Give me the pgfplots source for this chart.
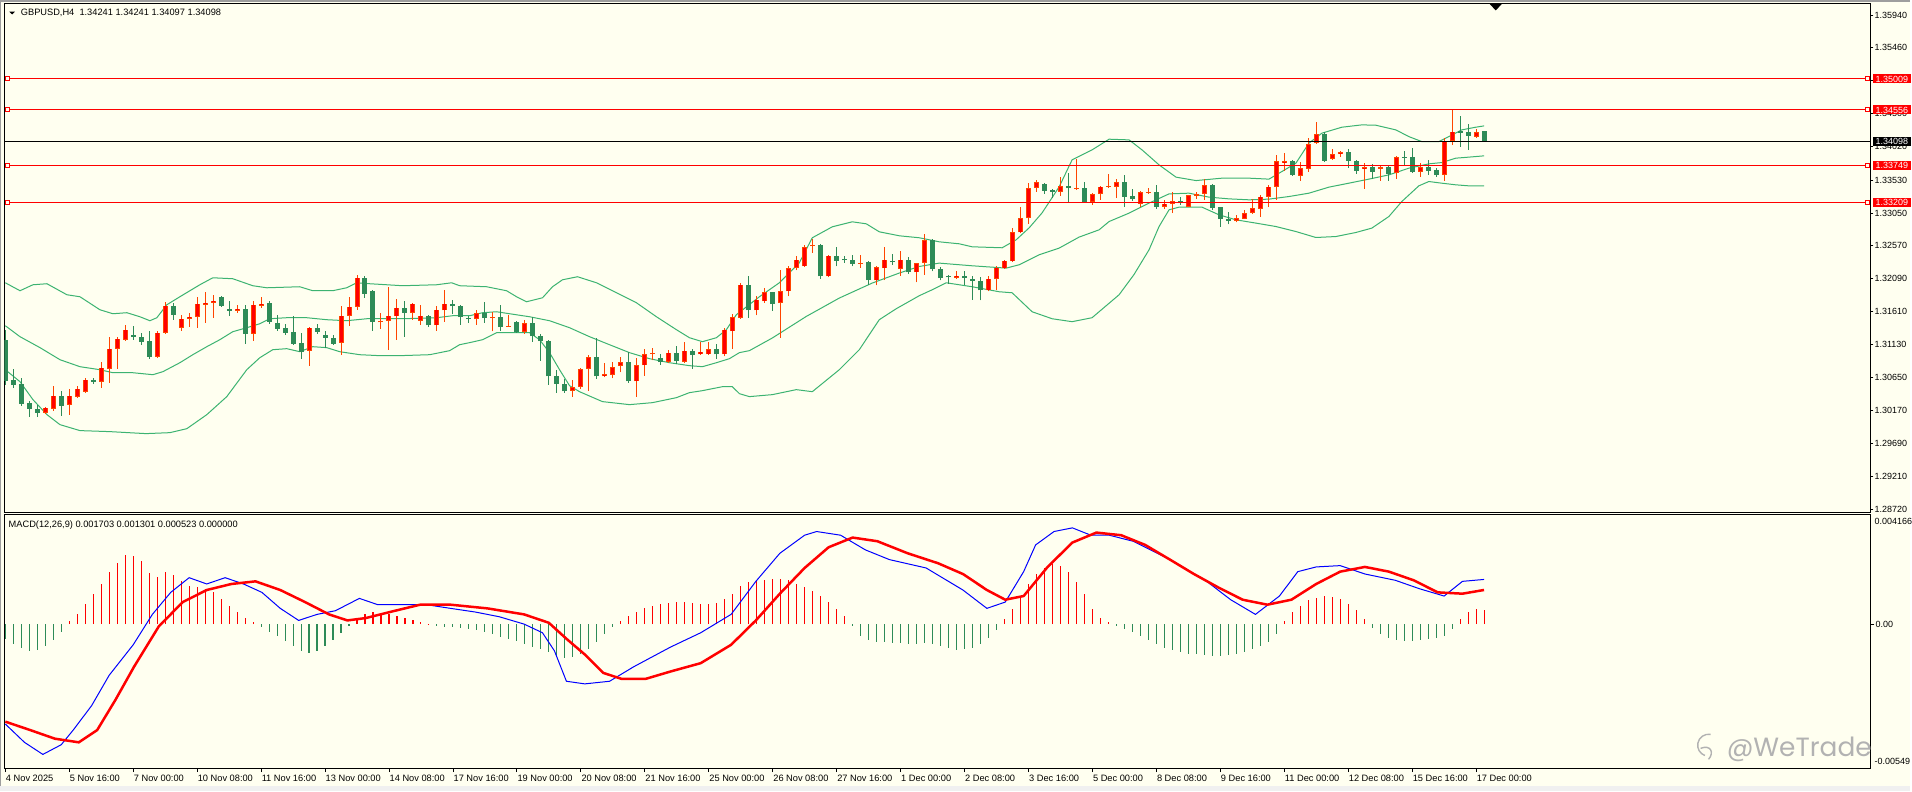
\documentclass[border=0pt]{standalone}
\usepackage{fontspec}
\setmainfont{Liberation Sans}
\newfontfamily\wmfont{Poppins}
\usepackage{pgfplots}
\usepackage{pgfplotstable}
\pgfplotsset{compat=1.18}
\definecolor{bgc}{RGB}{255,255,240}
\definecolor{bullfill}{RGB}{255,0,0}
\definecolor{bullline}{RGB}{255,69,0}
\definecolor{bear}{RGB}{46,139,87}
\definecolor{bbc}{RGB}{60,179,113}
\definecolor{histg}{RGB}{46,139,87}

\pgfplotstableread{
k O H L C
0 1.31200 1.31346 1.30543 1.30601
1 1.30616 1.30777 1.30500 1.30543
2 1.30558 1.30646 1.30237 1.30266
3 1.30281 1.30310 1.30077 1.30193
4 1.30193 1.30252 1.30077 1.30135
5 1.30135 1.30223 1.30120 1.30208
6 1.30193 1.30529 1.30164 1.30383
7 1.30383 1.30456 1.30091 1.30237
8 1.30252 1.30485 1.30106 1.30383
9 1.30369 1.30529 1.30354 1.30485
10 1.30441 1.30646 1.30427 1.30616
11 1.30616 1.30646 1.30558 1.30587
12 1.30587 1.30879 1.30500 1.30791
13 1.30777 1.31244 1.30573 1.31069
14 1.31069 1.31244 1.30777 1.31215
15 1.31200 1.31419 1.31186 1.31346
16 1.31273 1.31404 1.31200 1.31244
17 1.31244 1.31302 1.31127 1.31171
18 1.31186 1.31332 1.30923 1.30952
19 1.30952 1.31332 1.30938 1.31302
20 1.31302 1.31754 1.31288 1.31696
21 1.31696 1.31739 1.31492 1.31565
22 1.31375 1.31565 1.31332 1.31506
23 1.31506 1.31594 1.31390 1.31535
24 1.31535 1.31827 1.31375 1.31725
25 1.31710 1.31900 1.31448 1.31739
26 1.31739 1.31856 1.31521 1.31769
27 1.31827 1.31842 1.31681 1.31696
28 1.31652 1.31769 1.31550 1.31623
29 1.31623 1.31710 1.31594 1.31652
30 1.31652 1.31710 1.31142 1.31288
31 1.31288 1.31769 1.31186 1.31710
32 1.31696 1.31827 1.31667 1.31725
33 1.31739 1.31769 1.31433 1.31463
34 1.31448 1.31565 1.31332 1.31361
35 1.31375 1.31433 1.31273 1.31302
36 1.31317 1.31550 1.31127 1.31142
37 1.31157 1.31302 1.30923 1.31025
38 1.31040 1.31390 1.30821 1.31375
39 1.31375 1.31433 1.31288 1.31317
40 1.31273 1.31332 1.31084 1.31229
41 1.31229 1.31273 1.31127 1.31142
42 1.31157 1.31696 1.30981 1.31550
43 1.31550 1.31827 1.31404 1.31681
44 1.31681 1.32148 1.31637 1.32104
45 1.32104 1.32133 1.31812 1.31871
46 1.31915 1.31929 1.31332 1.31463
47 1.31452 1.31594 1.31361 1.31467
48 1.31477 1.31973 1.31054 1.31550
49 1.31540 1.31798 1.31200 1.31667
50 1.31667 1.31769 1.31244 1.31594
51 1.31594 1.31739 1.31492 1.31725
52 1.31477 1.31710 1.31419 1.31550
53 1.31550 1.31565 1.31390 1.31409
54 1.31409 1.31696 1.31332 1.31637
55 1.31627 1.31929 1.31463 1.31725
56 1.31725 1.31783 1.31579 1.31686
57 1.31696 1.31710 1.31419 1.31531
58 1.31521 1.31550 1.31448 1.31502
59 1.31502 1.31637 1.31419 1.31589
60 1.31589 1.31754 1.31448 1.31516
61 1.31516 1.31598 1.31321 1.31531
62 1.31531 1.31710 1.31332 1.31385
63 1.31394 1.31565 1.31390 1.31404
64 1.31458 1.31477 1.31302 1.31306
65 1.31312 1.31492 1.31288 1.31443
66 1.31443 1.31535 1.31171 1.31248
67 1.31248 1.31288 1.30894 1.31181
68 1.31181 1.31200 1.30543 1.30665
69 1.30665 1.30762 1.30427 1.30558
70 1.30554 1.30631 1.30427 1.30446
71 1.30456 1.30616 1.30369 1.30510
72 1.30510 1.30791 1.30485 1.30772
73 1.30772 1.30981 1.30456 1.30947
74 1.30947 1.31229 1.30631 1.30665
75 1.30665 1.30864 1.30650 1.30700
76 1.30685 1.30869 1.30635 1.30802
77 1.30816 1.30952 1.30723 1.30874
78 1.30874 1.31025 1.30573 1.30592
79 1.30592 1.30938 1.30369 1.30831
80 1.30825 1.31069 1.30675 1.30991
81 1.30991 1.31084 1.30898 1.31011
82 1.30933 1.30996 1.30835 1.30874
83 1.30874 1.31054 1.30864 1.31011
84 1.31011 1.31103 1.30850 1.30883
85 1.30874 1.31171 1.30864 1.31040
86 1.31040 1.31069 1.30777 1.30981
87 1.30986 1.31161 1.30981 1.31025
88 1.30986 1.31161 1.30981 1.31064
89 1.31064 1.31142 1.30923 1.30986
90 1.30986 1.31375 1.30956 1.31346
91 1.31321 1.31579 1.31069 1.31531
92 1.31516 1.32031 1.31506 1.32002
93 1.32002 1.32133 1.31521 1.31627
94 1.31627 1.31831 1.31554 1.31783
95 1.31759 1.31958 1.31739 1.31895
96 1.31895 1.31900 1.31623 1.31720
97 1.31735 1.32221 1.31229 1.31910
98 1.31904 1.32269 1.31831 1.32246
99 1.32246 1.32415 1.32211 1.32367
100 1.32269 1.32585 1.32265 1.32552
101 1.32561 1.32673 1.32469 1.32581
102 1.32585 1.32600 1.32090 1.32123
103 1.32123 1.32440 1.32109 1.32425
104 1.32425 1.32546 1.32269 1.32352
105 1.32377 1.32415 1.32323 1.32357
106 1.32367 1.32440 1.32269 1.32308
107 1.32308 1.32440 1.32250 1.32318
108 1.32337 1.32352 1.32002 1.32065
109 1.32065 1.32269 1.31992 1.32254
110 1.32240 1.32546 1.32070 1.32367
111 1.32352 1.32454 1.32294 1.32327
112 1.32231 1.32488 1.32133 1.32367
113 1.32367 1.32400 1.32163 1.32182
114 1.32182 1.32327 1.32036 1.32318
115 1.32318 1.32746 1.32148 1.32658
116 1.32658 1.32673 1.32196 1.32231
117 1.32235 1.32260 1.32065 1.32100
118 1.32123 1.32148 1.32017 1.32109
119 1.32100 1.32196 1.32090 1.32133
120 1.32133 1.32196 1.32002 1.32100
121 1.32090 1.32123 1.31783 1.32061
122 1.32061 1.32114 1.31773 1.31919
123 1.31919 1.32133 1.31904 1.32090
124 1.32085 1.32269 1.31929 1.32254
125 1.32240 1.32367 1.32235 1.32352
126 1.32342 1.32833 1.32337 1.32771
127 1.32765 1.33140 1.32760 1.32975
128 1.32975 1.33490 1.32892 1.33413
129 1.33413 1.33534 1.33363 1.33500
130 1.33471 1.33485 1.33329 1.33378
131 1.33388 1.33395 1.33267 1.33363
132 1.33363 1.33573 1.33304 1.33446
133 1.33446 1.33631 1.33208 1.33413
134 1.33398 1.33835 1.33388 1.33413
135 1.33413 1.33500 1.33208 1.33217
136 1.33208 1.33340 1.33169 1.33325
137 1.33325 1.33451 1.33242 1.33436
138 1.33436 1.33621 1.33413 1.33451
139 1.33436 1.33544 1.33267 1.33500
140 1.33509 1.33602 1.33144 1.33290
141 1.33300 1.33398 1.33232 1.33261
142 1.33179 1.33377 1.33144 1.33354
143 1.33344 1.33413 1.33329 1.33363
144 1.33359 1.33456 1.33111 1.33144
145 1.33144 1.33242 1.33115 1.33184
146 1.33179 1.33363 1.33048 1.33223
147 1.33223 1.33290 1.33169 1.33194
148 1.33144 1.33315 1.33135 1.33310
149 1.33305 1.33359 1.33252 1.33325
150 1.33329 1.33544 1.33242 1.33456
151 1.33456 1.33475 1.33096 1.33121
152 1.33135 1.33144 1.32852 1.32960
153 1.32969 1.33057 1.32882 1.32931
154 1.32931 1.33019 1.32911 1.32979
155 1.32969 1.33096 1.32960 1.33048
156 1.33048 1.33252 1.33038 1.33125
157 1.33115 1.33310 1.32998 1.33290
158 1.33290 1.33456 1.33135 1.33436
159 1.33436 1.33898 1.33242 1.33806
160 1.33786 1.33923 1.33669 1.33811
161 1.33811 1.33825 1.33596 1.33602
162 1.33596 1.33800 1.33523 1.33704
163 1.33698 1.34142 1.33655 1.34054
164 1.34069 1.34380 1.34059 1.34205
165 1.34205 1.34234 1.33800 1.33811
166 1.33836 1.33981 1.33825 1.33913
167 1.33908 1.33961 1.33865 1.33942
168 1.33942 1.33986 1.33713 1.33811
169 1.33811 1.33825 1.33621 1.33669
170 1.33690 1.33777 1.33407 1.33719
171 1.33719 1.33767 1.33544 1.33655
172 1.33698 1.33752 1.33523 1.33719
173 1.33719 1.33752 1.33523 1.33625
174 1.33631 1.33884 1.33553 1.33865
175 1.33873 1.33961 1.33738 1.33859
176 1.33865 1.33996 1.33640 1.33655
177 1.33655 1.33777 1.33582 1.33719
178 1.33719 1.33825 1.33606 1.33669
179 1.33679 1.33704 1.33582 1.33602
180 1.33602 1.34142 1.33523 1.34098
181 1.34098 1.34555 1.34044 1.34238
182 1.34253 1.34467 1.34019 1.34223
183 1.34234 1.34350 1.33971 1.34175
184 1.34165 1.34273 1.34150 1.34234
185 1.34241 1.34241 1.34097 1.34098
}\candles

\pgfplotstableread{
k v
0 -0.00057
1 -0.00076
2 -0.00091
3 -0.00103
4 -0.00099
5 -0.00084
6 -0.00061
7 -0.00030
8 0.00011
9 0.00038
10 0.00076
11 0.00114
12 0.00152
13 0.00198
14 0.00232
15 0.00263
16 0.00259
17 0.00240
18 0.00194
19 0.00179
20 0.00198
21 0.00187
22 0.00164
23 0.00145
24 0.00141
25 0.00133
26 0.00122
27 0.00095
28 0.00069
29 0.00046
30 0.00023
31 0.00008
32 -0.00011
33 -0.00030
34 -0.00046
35 -0.00065
36 -0.00084
37 -0.00103
38 -0.00111
39 -0.00103
40 -0.00084
41 -0.00061
42 -0.00034
43 -0.00008
44 0.00019
45 0.00038
46 0.00046
47 0.00042
48 0.00038
49 0.00030
50 0.00023
51 0.00015
52 0.00008
53 0.00002
54 -0.00008
55 -0.00011
56 -0.00011
57 -0.00015
58 -0.00019
59 -0.00023
60 -0.00030
61 -0.00038
62 -0.00050
63 -0.00057
64 -0.00065
65 -0.00076
66 -0.00088
67 -0.00095
68 -0.00107
69 -0.00122
70 -0.00130
71 -0.00126
72 -0.00114
73 -0.00095
74 -0.00069
75 -0.00038
76 -0.00011
77 0.00011
78 0.00030
79 0.00046
80 0.00061
81 0.00069
82 0.00076
83 0.00080
84 0.00084
85 0.00084
86 0.00080
87 0.00076
88 0.00076
89 0.00080
90 0.00095
91 0.00114
92 0.00145
93 0.00160
94 0.00164
95 0.00168
96 0.00171
97 0.00171
98 0.00168
99 0.00152
100 0.00141
101 0.00126
102 0.00107
103 0.00084
104 0.00057
105 0.00030
106 -0.00008
107 -0.00046
108 -0.00061
109 -0.00069
110 -0.00069
111 -0.00072
112 -0.00072
113 -0.00076
114 -0.00076
115 -0.00072
116 -0.00076
117 -0.00084
118 -0.00091
119 -0.00099
120 -0.00095
121 -0.00091
122 -0.00076
123 -0.00053
124 -0.00023
125 0.00019
126 0.00057
127 0.00107
128 0.00152
129 0.00191
130 0.00213
131 0.00229
132 0.00221
133 0.00198
134 0.00160
135 0.00114
136 0.00057
137 0.00023
138 0.00008
139 -0.00008
140 -0.00019
141 -0.00030
142 -0.00046
143 -0.00061
144 -0.00076
145 -0.00091
146 -0.00099
147 -0.00107
148 -0.00114
149 -0.00114
150 -0.00118
151 -0.00122
152 -0.00122
153 -0.00118
154 -0.00114
155 -0.00107
156 -0.00095
157 -0.00084
158 -0.00069
159 -0.00038
160 0.00011
161 0.00046
162 0.00069
163 0.00091
164 0.00099
165 0.00107
166 0.00103
167 0.00095
168 0.00076
169 0.00053
170 0.00019
171 -0.00015
172 -0.00038
173 -0.00053
174 -0.00061
175 -0.00065
176 -0.00065
177 -0.00061
178 -0.00057
179 -0.00053
180 -0.00046
181 -0.00019
182 0.00019
183 0.00046
184 0.00057
185 0.000523
}\hist

\begin{document}
\begin{tikzpicture}[x=1bp,y=1bp]
\fill[bgc] (0,0) rectangle (1912,792);
\fill[black!38] (0,789.5) rectangle (1912,792);
\fill[black!38] (0,0) rectangle (1.5,792);
\fill[black!6] (0,0) rectangle (1912,5.5);

\begin{axis}[
  at={(4.5bp,279.3bp)}, anchor=south west, scale only axis,
  width=1867.5bp, height=508.7bp,
  xmin=-0.1, xmax=233.34, ymin=1.28681, ymax=1.36101,
  axis line style={black, line width=1bp},
  xtick=\empty,
  ytick={1.35940,1.35460,1.34980,1.34500,1.34020,1.33530,1.33050,1.32570,1.32090,1.31610,1.31130,1.30650,1.30170,1.29690,1.29210,1.28720},
  yticklabels={1.35940,1.35460,1.34980,1.34500,1.34020,1.33530,1.33050,1.32570,1.32090,1.31610,1.31130,1.30650,1.30170,1.29690,1.29210,1.28720},
  ytick pos=right, yticklabel pos=right, tick align=outside,
  major tick length=3bp, tick style={black, line width=0.8bp},
  yticklabel style={anchor=west, inner sep=0pt, xshift=1bp, font=\fontsize{9}{10}\selectfont},
  scaled y ticks=false, clip mode=individual,
]
% Bollinger bands
\addplot[bbc, line width=1bp] coordinates {(0,1.32031) (1.84,1.31915) (3.46,1.32002) (5.21,1.32017) (7.71,1.31856) (9.34,1.31827) (11.84,1.31637) (13.46,1.31579) (15.21,1.31594) (16.84,1.31535) (18.09,1.31477) (18.96,1.31521) (20.21,1.31710) (21.84,1.31827) (24.34,1.32002) (25.96,1.32104) (28.46,1.32090) (30.96,1.31988) (32.71,1.31958) (36.84,1.31973) (38.46,1.31915) (40.96,1.31915) (42.71,1.31958) (43.96,1.32031) (45.59,1.32017) (49.71,1.31988) (53.96,1.32002) (55.84,1.32031) (56.84,1.31988) (60.21,1.31973) (62.71,1.31915) (63.96,1.31827) (65.21,1.31754) (67.21,1.31812) (68.46,1.31973) (69.71,1.32075) (71.59,1.32119) (73.96,1.32031) (76.46,1.31885) (78.96,1.31739) (81.46,1.31535) (83.96,1.31346) (85.59,1.31229) (87.21,1.31171) (88.96,1.31229) (90.21,1.31346) (91.46,1.31565) (94.34,1.31827) (96.84,1.32031) (99.34,1.32323) (100.96,1.32688) (103.46,1.32848) (105.96,1.32921) (107.71,1.32892) (109.34,1.32775) (111.84,1.32717) (114.34,1.32688) (116.84,1.32629) (119.34,1.32600) (120.96,1.32556) (124.71,1.32542) (126.46,1.32658) (128.09,1.32833) (129.71,1.33052) (131.84,1.33431) (133.46,1.33825) (135.21,1.33927) (135.96,1.33971) (138.09,1.34127) (140.59,1.34117) (142.21,1.33971) (144.34,1.33752) (146.46,1.33573) (148.96,1.33523) (152.21,1.33558) (155.59,1.33558) (158.09,1.33544) (159.71,1.33655) (161.46,1.33777) (163.09,1.34069) (164.71,1.34215) (167.21,1.34302) (169.71,1.34336) (171.46,1.34331) (173.96,1.34263) (175.59,1.34165) (177.21,1.34092) (179.34,1.34092) (180.59,1.34165) (182.21,1.34263) (183.96,1.34302) (185,1.34321)};
\addplot[bbc, line width=1bp] coordinates {(0,1.31404) (1.84,1.31244) (4.34,1.31084) (6.84,1.30908) (9.34,1.30806) (11.84,1.30762) (13.46,1.30718) (15.96,1.30718) (18.46,1.30689) (19.71,1.30733) (21.84,1.30864) (23.46,1.30981) (25.21,1.31098) (26.84,1.31200) (28.46,1.31317) (30.21,1.31375) (31.84,1.31433) (33.09,1.31506) (35.21,1.31521) (37.71,1.31521) (40.21,1.31492) (42.71,1.31477) (45.21,1.31506) (49.71,1.31506) (53.96,1.31521) (55.96,1.31550) (58.09,1.31550) (59.71,1.31594) (61.46,1.31608) (63.09,1.31579) (65.59,1.31535) (68.09,1.31477) (70.59,1.31375) (73.09,1.31244) (75.59,1.31127) (78.09,1.31011) (80.59,1.30923) (83.09,1.30864) (85.59,1.30821) (87.21,1.30806) (88.96,1.30864) (90.59,1.30923) (91.84,1.31011) (93.09,1.31040) (95.96,1.31225) (100.21,1.31540) (104.34,1.31808) (108.46,1.32027) (111.84,1.32173) (114.34,1.32269) (116.84,1.32318) (120.96,1.32279) (125.21,1.32245) (126.84,1.32294) (129.34,1.32440) (131.84,1.32537) (134.34,1.32698) (136.84,1.32804) (138.09,1.32925) (140.59,1.33048) (143.09,1.33194) (145.59,1.33329) (148.09,1.33339) (150.59,1.33281) (153.09,1.33256) (155.59,1.33242) (158.09,1.33252) (160.59,1.33290) (163.09,1.33339) (165.59,1.33427) (168.09,1.33485) (170.59,1.33544) (173.09,1.33606) (175.59,1.33704) (178.09,1.33767) (179.71,1.33786) (181.46,1.33850) (183.09,1.33865) (185,1.33884)};
\addplot[bbc, line width=1bp] coordinates {(0,1.30762) (1.84,1.30587) (3.46,1.30325) (5.21,1.30106) (6.84,1.29960) (9.34,1.29873) (13.09,1.29858) (17.59,1.29829) (20.59,1.29843) (22.71,1.29901) (25.21,1.30106) (27.71,1.30369) (30.21,1.30762) (31.84,1.30937) (33.46,1.31054) (35.21,1.31069) (36.84,1.31025) (38.46,1.31098) (40.21,1.31084) (41.84,1.31025) (44.34,1.30981) (46.84,1.30967) (49.34,1.30967) (53.09,1.30981) (55.59,1.31040) (56.84,1.31127) (58.09,1.31157) (59.71,1.31200) (61.46,1.31302) (63.96,1.31302) (65.59,1.31302) (66.84,1.31200) (68.09,1.31011) (69.34,1.30762) (70.59,1.30529) (71.84,1.30441) (74.71,1.30296) (78.09,1.30252) (80.96,1.30281) (83.96,1.30354) (85.59,1.30427) (87.21,1.30456) (89.71,1.30514) (90.96,1.30514) (91.84,1.30412) (93.09,1.30369) (95.96,1.30398) (98.96,1.30471) (100.96,1.30441) (104.34,1.30762) (106.84,1.31054) (109.34,1.31492) (111.46,1.31652) (114.34,1.31842) (115.96,1.31929) (117.71,1.32031) (120.96,1.31973) (124.34,1.31900) (125.96,1.31885) (128.46,1.31608) (130.96,1.31506) (133.46,1.31463) (135.96,1.31521) (139.34,1.31856) (141.2,1.32150) (143.09,1.32513) (144.34,1.32852) (145.59,1.33096) (146.84,1.33135) (149.71,1.33135) (151.84,1.33023) (153.96,1.32950) (156.46,1.32902) (158.96,1.32852) (161.46,1.32779) (163.96,1.32692) (166.46,1.32706) (168.96,1.32765) (170.96,1.32829) (173.09,1.32998) (174.71,1.33217) (176.84,1.33446) (178.09,1.33509) (179.71,1.33485) (181.46,1.33461) (183.09,1.33446) (185,1.33446)};
% bear candles (close below open)
\addplot[draw=none, mark=none, restrict expr to domain={\thisrow{O}-\thisrow{C}}{0:1},
  error bars/.cd, y dir=plus, y explicit, error mark=none,
  error bar style={line width=1bp, draw=bear}]
  table[x=k, y=L, y error expr=\thisrow{H}-\thisrow{L}] {\candles};
\addplot[draw=none, mark=none, restrict expr to domain={\thisrow{O}-\thisrow{C}}{0:1},
  error bars/.cd, y dir=plus, y explicit, error mark=none,
  error bar style={line width=5bp, draw=bear}]
  table[x=k, y=C, y error expr=\thisrow{O}-\thisrow{C}] {\candles};
% bull candles
\addplot[draw=none, mark=none, restrict expr to domain={\thisrow{C}-\thisrow{O}}{0.000001:1},
  error bars/.cd, y dir=plus, y explicit, error mark=none,
  error bar style={line width=1bp, draw=bullline}]
  table[x=k, y=L, y error expr=\thisrow{H}-\thisrow{L}] {\candles};
\addplot[draw=none, mark=none, restrict expr to domain={\thisrow{C}-\thisrow{O}}{0.000001:1},
  error bars/.cd, y dir=plus, y explicit, error mark=none,
  error bar style={line width=5bp, draw=bullline}]
  table[x=k, y=O, y error expr=\thisrow{C}-\thisrow{O}] {\candles};
\addplot[draw=none, mark=none, restrict expr to domain={\thisrow{C}-\thisrow{O}}{0.00025:1},
  error bars/.cd, y dir=plus, y explicit, error mark=none,
  error bar style={line width=3bp, draw=bullfill}]
  table[x=k, y expr=\thisrow{O}+0.0001, y error expr=\thisrow{C}-\thisrow{O}-0.0002] {\candles};
% horizontal levels
\addplot[black, line width=1bp] coordinates {(-0.1,1.34098) (233.34,1.34098)};
\addplot[red, line width=1bp, mark=square*, mark size=2bp, mark options={fill=bgc, draw=red, line width=0.8bp}] coordinates {(0.25,1.35009) (232.9,1.35009)};
\addplot[red, line width=1bp, mark=square*, mark size=2bp, mark options={fill=bgc, draw=red, line width=0.8bp}] coordinates {(0.25,1.34556) (232.9,1.34556)};
\addplot[red, line width=1bp, mark=square*, mark size=2bp, mark options={fill=bgc, draw=red, line width=0.8bp}] coordinates {(0.25,1.33749) (232.9,1.33749)};
\addplot[red, line width=1bp, mark=square*, mark size=2bp, mark options={fill=bgc, draw=red, line width=0.8bp}] coordinates {(0.25,1.33209) (232.9,1.33209)};
\node[fill=red, text=white, anchor=west, inner xsep=3bp, inner ysep=1.2bp, text height=6.5bp, text depth=0bp, font=\fontsize{9}{10}\selectfont, xshift=2bp] at (axis cs:233.34,1.35009) {1.35009};
\node[fill=red, text=white, anchor=west, inner xsep=3bp, inner ysep=1.2bp, text height=6.5bp, text depth=0bp, font=\fontsize{9}{10}\selectfont, xshift=2bp] at (axis cs:233.34,1.34556) {1.34556};
\node[fill=black, text=white, anchor=west, inner xsep=3bp, inner ysep=1.2bp, text height=6.5bp, text depth=0bp, font=\fontsize{9}{10}\selectfont, xshift=2bp] at (axis cs:233.34,1.34098) {1.34098};
\node[fill=red, text=white, anchor=west, inner xsep=3bp, inner ysep=1.2bp, text height=6.5bp, text depth=0bp, font=\fontsize{9}{10}\selectfont, xshift=2bp] at (axis cs:233.34,1.33749) {1.33749};
\node[fill=red, text=white, anchor=west, inner xsep=3bp, inner ysep=1.2bp, text height=6.5bp, text depth=0bp, font=\fontsize{9}{10}\selectfont, xshift=2bp] at (axis cs:233.34,1.33209) {1.33209};
\end{axis}

\begin{axis}[
  at={(4.5bp,23.3bp)}, anchor=south west, scale only axis,
  width=1867.5bp, height=253.4bp,
  xmin=-0.1, xmax=233.34, ymin=-0.00549, ymax=0.004166,
  axis line style={black, line width=1bp},
  xtick={0,8,...,184},
  xticklabels={4 Nov 2025,5 Nov 16:00,7 Nov 00:00,10 Nov 08:00,11 Nov 16:00,13 Nov 00:00,14 Nov 08:00,17 Nov 16:00,19 Nov 00:00,20 Nov 08:00,21 Nov 16:00,25 Nov 00:00,26 Nov 08:00,27 Nov 16:00,1 Dec 00:00,2 Dec 08:00,3 Dec 16:00,5 Dec 00:00,8 Dec 08:00,9 Dec 16:00,11 Dec 00:00,12 Dec 08:00,15 Dec 16:00,17 Dec 00:00},
  xtick pos=bottom, xticklabel pos=bottom,
  ytick={0}, yticklabels={0.00}, ytick pos=right, yticklabel pos=right,
  tick align=outside, major tick length=4bp, tick style={black, line width=0.8bp},
  xticklabel style={anchor=north west, inner sep=0pt, xshift=0.5bp, yshift=-3bp, font=\fontsize{9.3}{10}\selectfont},
  yticklabel style={anchor=west, inner sep=0pt, xshift=1bp, font=\fontsize{9}{10}\selectfont},
  scaled y ticks=false, clip mode=individual,
]
\addplot[ycomb, bullfill, line width=1.1bp, restrict y to domain=0:1] table[x=k, y=v] {\hist};
\addplot[ycomb, histg, line width=1.1bp, restrict y to domain=-1:0] table[x=k, y=v] {\hist};
\addplot[blue, line width=1bp] coordinates {(0,-0.00381) (2.4,-0.00451) (4.7,-0.00497) (7,-0.00460) (8.5,-0.00404) (10.8,-0.00311) (13,-0.00195) (16,-0.00079) (18.4,0.00037) (20.7,0.00121) (23,0.00177) (25.2,0.00153) (27.5,0.00177) (29.8,0.00153) (32.1,0.00121) (34.4,0.00060) (36.7,0.00014) (39,0.00037) (41.3,0.00051) (44.3,0.00098) (46.6,0.00074) (49.6,0.00074) (52.7,0.00074) (55.7,0.00060) (58.8,0.00046) (61.8,0.00028) (64.9,0.00000) (67.2,-0.00033) (68.7,-0.00102) (70.2,-0.00218) (72.5,-0.00228) (75.6,-0.00218) (78.6,-0.00163) (83.2,-0.00088) (87,-0.00033) (90.8,0.00037) (93.9,0.00163) (96.9,0.00270) (100,0.00339) (101.5,0.00353) (104.5,0.00339) (107.6,0.00283) (110.6,0.00246) (115.2,0.00214) (119.8,0.00130) (122.8,0.00060) (125.1,0.00084) (127.4,0.00200) (128.9,0.00302) (131.2,0.00353) (133.5,0.00367) (135.8,0.00339) (138.1,0.00339) (141.1,0.00316) (145.7,0.00246) (150.3,0.00163) (153.3,0.00093) (156.4,0.00037) (159.4,0.00107) (161.7,0.00200) (164,0.00218) (167,0.00223) (170.1,0.00191) (173.9,0.00167) (176.9,0.00135) (180,0.00107) (182.3,0.00163) (185,0.001703)};
\addplot[red, line width=2.5bp] coordinates {(0,-0.00372) (3.1,-0.00404) (6.2,-0.00437) (9.2,-0.00451) (11.5,-0.00404) (13.8,-0.00288) (16.1,-0.00163) (19.2,-0.00009) (22.2,0.00084) (25.2,0.00130) (28.3,0.00153) (31.3,0.00163) (34.4,0.00130) (37.5,0.00084) (40.5,0.00037) (42.8,0.00014) (45.1,0.00023) (48.1,0.00046) (51.9,0.00074) (55.7,0.00074) (60.3,0.00060) (64.9,0.00037) (68,0.00005) (70.2,-0.00056) (72.5,-0.00116) (74.8,-0.00186) (77.1,-0.00209) (80.1,-0.00209) (83.2,-0.00181) (87,-0.00149) (90.8,-0.00079) (93.9,0.00014) (96.9,0.00116) (100,0.00214) (103,0.00293) (106,0.00330) (109.1,0.00316) (112.9,0.00270) (116.7,0.00232) (119.8,0.00191) (122.8,0.00130) (125.1,0.00093) (127.4,0.00107) (130.4,0.00218) (133.5,0.00311) (136.5,0.00349) (139.6,0.00339) (142.6,0.00302) (145.7,0.00246) (148.7,0.00191) (151.8,0.00139) (154.8,0.00093) (157.9,0.00074) (160.9,0.00093) (164,0.00153) (167,0.00200) (170.1,0.00218) (173.1,0.00200) (176.2,0.00167) (179.2,0.00121) (182.3,0.00116) (185,0.001301)};
\node[anchor=north west, inner sep=0pt, font=\fontsize{9}{10}\selectfont, xshift=4bp, yshift=-3bp] at (rel axis cs:1,1) {0.004166};
\node[anchor=south west, inner sep=0pt, font=\fontsize{9}{10}\selectfont, xshift=4bp, yshift=3bp] at (rel axis cs:1,0) {-0.00549};
\end{axis}

\fill[black] (9.3,780.3) -- (15,780.3) -- (12.15,777.6) -- cycle;
\node[anchor=base west, inner sep=0pt, font=\fontsize{9.3}{11}\selectfont] at (20.7,776) {GBPUSD,H4\ \ 1.34241 1.34241 1.34097 1.34098};
\node[anchor=base west, inner sep=0pt, font=\fontsize{9.3}{11}\selectfont] at (8.5,264.3) {MACD(12,26,9) 0.001703 0.001301 0.000523 0.000000};
\fill[black] (1491,788) -- (1503,788) -- (1497,781.5) -- cycle;
\draw[black!30, line width=1.4bp] (1712,57) arc (80:250:11) ;
\draw[black!30, line width=1.4bp] (1702,43) .. controls (1712,47) and (1716,39) .. (1710,32);
\node[anchor=base west, inner sep=0pt, text depth=0pt, text=black!30, font=\wmfont\fontsize{26.5}{27}\selectfont] at (1728,35) {@WeTrade};
\end{tikzpicture}
\end{document}
